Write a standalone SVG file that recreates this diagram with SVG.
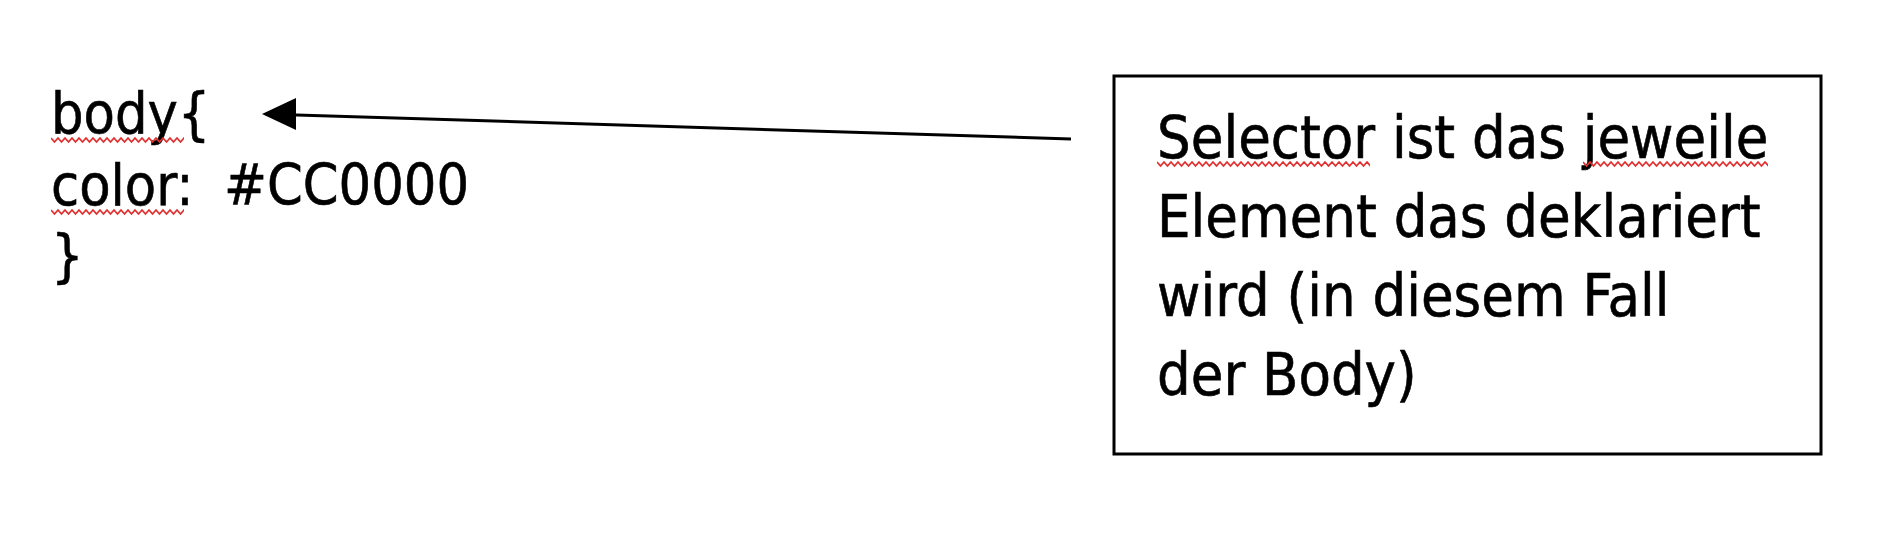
<svg xmlns="http://www.w3.org/2000/svg" width="1890" height="542" viewBox="0 0 1890 542">
<style>
.t{font-family:"DejaVu Sans Condensed","DejaVu Sans",sans-serif;fill:#000;stroke:#000;stroke-width:0.6}
.code{font-size:57px}
.note{font-size:59px}
.sq{fill:none;stroke:#e03030;stroke-width:1.8}
</style>
<defs>
<path id="wave" d="M0,0 l3.5,4 l3.5,-4 l3.5,4 l3.5,-4 l3.5,4 l3.5,-4 l3.5,4 l3.5,-4 l3.5,4 l3.5,-4 l3.5,4 l3.5,-4 l3.5,4 l3.5,-4 l3.5,4 l3.5,-4 l3.5,4 l3.5,-4 l3.5,4 l3.5,-4 l3.5,4 l3.5,-4 l3.5,4 l3.5,-4 l3.5,4 l3.5,-4 l3.5,4 l3.5,-4 l3.5,4 l3.5,-4 l3.5,4 l3.5,-4 l3.5,4 l3.5,-4 l3.5,4 l3.5,-4 l3.5,4 l3.5,-4 l3.5,4 l3.5,-4 l3.5,4 l3.5,-4 l3.5,4 l3.5,-4 l3.5,4 l3.5,-4 l3.5,4 l3.5,-4 l3.5,4 l3.5,-4 l3.5,4 l3.5,-4 l3.5,4 l3.5,-4 l3.5,4 l3.5,-4 l3.5,4 l3.5,-4 l3.5,4 l3.5,-4 l3.5,4 l3.5,-4 l3.5,4 l3.5,-4"/>
</defs>
<rect width="1890" height="542" fill="#fff"/>
<g id="code">
<text class="t code" x="51" y="133">body{</text>
<text class="t code" x="51" y="205">color:<tspan x="224">#CC0000</tspan></text>
<text class="t code" x="51" y="275">}</text>
<svg x="51" y="136" width="133" height="8" overflow="hidden"><use href="#wave" class="sq" y="2"/></svg>
<svg x="51" y="208" width="133" height="8" overflow="hidden"><use href="#wave" class="sq" y="2"/></svg>
</g>
<g id="note">
<rect x="1114" y="76" width="707" height="378" fill="none" stroke="#000" stroke-width="3"/>
<text class="t note" x="1157" y="158">Selector ist das jeweile</text>
<text class="t note" x="1157" y="237">Element das deklariert</text>
<text class="t note" x="1157" y="316">wird (in diesem Fall</text>
<text class="t note" x="1157" y="395">der Body)</text>
<svg x="1157" y="160" width="213" height="8" overflow="hidden"><use href="#wave" class="sq" y="2"/></svg>
<svg x="1583" y="160" width="185" height="8" overflow="hidden"><use href="#wave" class="sq" y="2"/></svg>
</g>
<g id="connectors">
<line x1="1071" y1="139" x2="280" y2="114.5" stroke="#000" stroke-width="3"/>
<path d="M262,114 L296,98 L296,130 Z" fill="#000"/>
</g>
</svg>
